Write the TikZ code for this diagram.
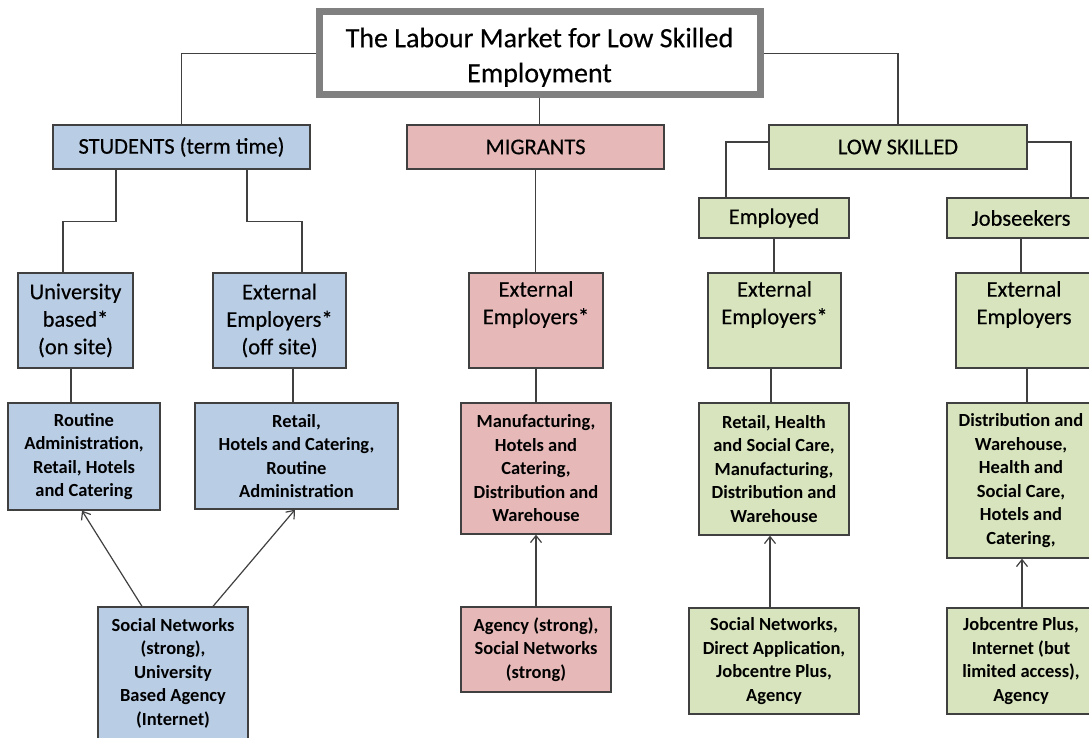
\documentclass[tikz,border=0pt]{standalone}
\usepackage{fontspec}
\setmainfont{Carlito}
\usetikzlibrary{arrows.meta}
\definecolor{stublue}{HTML}{B9CDE5}
\definecolor{migpink}{HTML}{E6B9B8}
\definecolor{lowgreen}{HTML}{D7E4BD}
\definecolor{edge}{HTML}{404040}
\definecolor{titleframe}{HTML}{808080}
\tikzset{
  box/.style={draw=edge, line width=1.3pt, rectangle, inner sep=0pt, align=center, text=black},
  titlebox/.style={box, draw=titleframe, line width=7pt, fill=white,
    font=\fontsize{28}{35}\selectfont\addfontfeature{FakeBold=0.4}},
  headbox/.style={box, font=\fontsize{22.5}{27.5}\selectfont\addfontfeature{FakeBold=0.4}},
  itembox/.style={box, font=\fontsize{18.5}{23.5}\selectfont\bfseries},
  link/.style={draw=edge, line width=1.2pt},
  feed/.style={link, -{Straight Barb[length=7pt,width=11pt]}},
}
\begin{document}
\begin{tikzpicture}[x=1pt, y=-1pt]
\useasboundingbox (0,0) rectangle (1089,738);

% title (the tall strut lowers the two lines slightly inside the frame)
\node[titlebox, minimum width=441, minimum height=83] (title) at (539.5,53.5)
  {\rule{0pt}{27pt}The Labour Market for Low Skilled\\Employment};

% three groups
\node[headbox, fill=stublue, minimum width=257, minimum height=44] (students) at (181.5,147) {STUDENTS (term time)};
\node[headbox, fill=migpink, minimum width=257, minimum height=44] (migrants) at (535.5,147) {MIGRANTS};
\node[headbox, fill=lowgreen, minimum width=258, minimum height=44] (lowskilled) at (898,147) {LOW SKILLED};

% low skilled subgroups
\node[headbox, fill=lowgreen, minimum width=150, minimum height=40] (employed) at (774,218) {Employed};
\node[headbox, fill=lowgreen, minimum width=148, minimum height=40] (jobseekers) at (1021,218) {Jobseekers};

% employer boxes
\node[headbox, fill=stublue, minimum width=115, minimum height=95] (univ) at (75.5,320.5) {University\\based*\\(on site)};
\node[headbox, fill=stublue, minimum width=133, minimum height=95] (extstu) at (279.5,320.5) {External\\Employers*\\(off site)};
\node[headbox, fill=migpink, minimum width=134, minimum height=95] (extmig) at (536,320.5) {External\\Employers*\\\strut};
\node[headbox, fill=lowgreen, minimum width=133, minimum height=95] (extemp) at (774.5,320.5) {External\\Employers*\\\strut};
\node[headbox, fill=lowgreen, minimum width=136, minimum height=95] (extjob) at (1024,320.5) {External\\Employers\\\strut};

% sectors
\node[itembox, fill=stublue, minimum width=152, minimum height=107] (routine) at (84,456.5)
  {Routine\\Administration,\\Retail, Hotels\\and Catering};
\node[itembox, fill=stublue, minimum width=203, minimum height=106] (retailstu) at (296.5,456)
  {Retail,\\Hotels and Catering,\\Routine\\Administration};
\node[itembox, fill=migpink, minimum width=150, minimum height=131] (manuf) at (536,468.5)
  {Manufacturing,\\Hotels and\\Catering,\\Distribution and\\Warehouse};
\node[itembox, fill=lowgreen, minimum width=150, minimum height=132] (retailhealth) at (774,469)
  {Retail, Health\\and Social Care,\\Manufacturing,\\Distribution and\\Warehouse};
\node[itembox, fill=lowgreen, minimum width=148, minimum height=155] (distrib) at (1021,480.5)
  {Distribution and\\Warehouse,\\Health and\\Social Care,\\Hotels and\\Catering,};

% recruitment channels
\node[itembox, fill=stublue, minimum width=150, minimum height=132] (socstu) at (173,673)
  {Social Networks\\(strong),\\University\\Based Agency\\(Internet)};
\node[itembox, fill=migpink, minimum width=150, minimum height=85] (agency) at (536,649.5)
  {Agency (strong),\\Social Networks\\(strong)};
\node[itembox, fill=lowgreen, minimum width=170, minimum height=106] (socemp) at (774,661)
  {Social Networks,\\Direct Application,\\Jobcentre Plus,\\Agency};
\node[itembox, fill=lowgreen, minimum width=148, minimum height=106] (jobcentre) at (1021,661)
  {Jobcentre Plus,\\Internet (but\\limited access),\\Agency};

% title to groups
\draw[link] (title.west) -| (students.north);
\draw[link] (title.east) -| (lowskilled.north);
\draw[link] (title.south) -- (title.south |- migrants.north);

% students branches
\draw[link] ([xshift=-65.5pt]students.south) -- ++(0,52) -| ([xshift=-12.5pt]univ.north);
\draw[link] ([xshift=65.5pt]students.south) -- ++(0,52) -| ([xshift=22.5pt]extstu.north);
\coordinate (u1) at ([xshift=-4.5pt]univ.south);
\coordinate (u2) at ([xshift=13.5pt]extstu.south);
\draw[link] (u1) -- (u1 |- routine.north);
\draw[link] (u2) -- (u2 |- retailstu.north);
\draw[feed] ([xshift=-31pt]socstu.north) -- ([xshift=-2pt]routine.south);
\draw[feed] ([xshift=40pt]socstu.north) -- ([xshift=-1.5pt]retailstu.south);

% migrants branch
\draw[link] (migrants.south) -- (migrants.south |- extmig.north);
\draw[link] (extmig.south) -- (extmig.south |- manuf.north);
\draw[feed] (agency.north) -- (manuf.south);

% low skilled branches
\draw[link] ([yshift=5pt]lowskilled.west) -| ([xshift=-48pt]employed.north);
\draw[link] ([yshift=5pt]lowskilled.east) -| ([xshift=50pt]jobseekers.north);
\draw[link] (employed.south) -- (employed.south |- extemp.north);
\draw[link] (jobseekers.south) -- (jobseekers.south |- extjob.north);
\coordinate (e1) at ([xshift=-3.5pt]extemp.south);
\coordinate (e2) at ([xshift=3pt]extjob.south);
\draw[link] (e1) -- (e1 |- retailhealth.north);
\draw[link] (e2) -- (e2 |- distrib.north);
\draw[feed] ([xshift=-4pt]socemp.north) -- ([xshift=-4pt]retailhealth.south);
\draw[feed] ([xshift=1pt]jobcentre.north) -- ([xshift=1pt]distrib.south);
\end{tikzpicture}
\end{document}
